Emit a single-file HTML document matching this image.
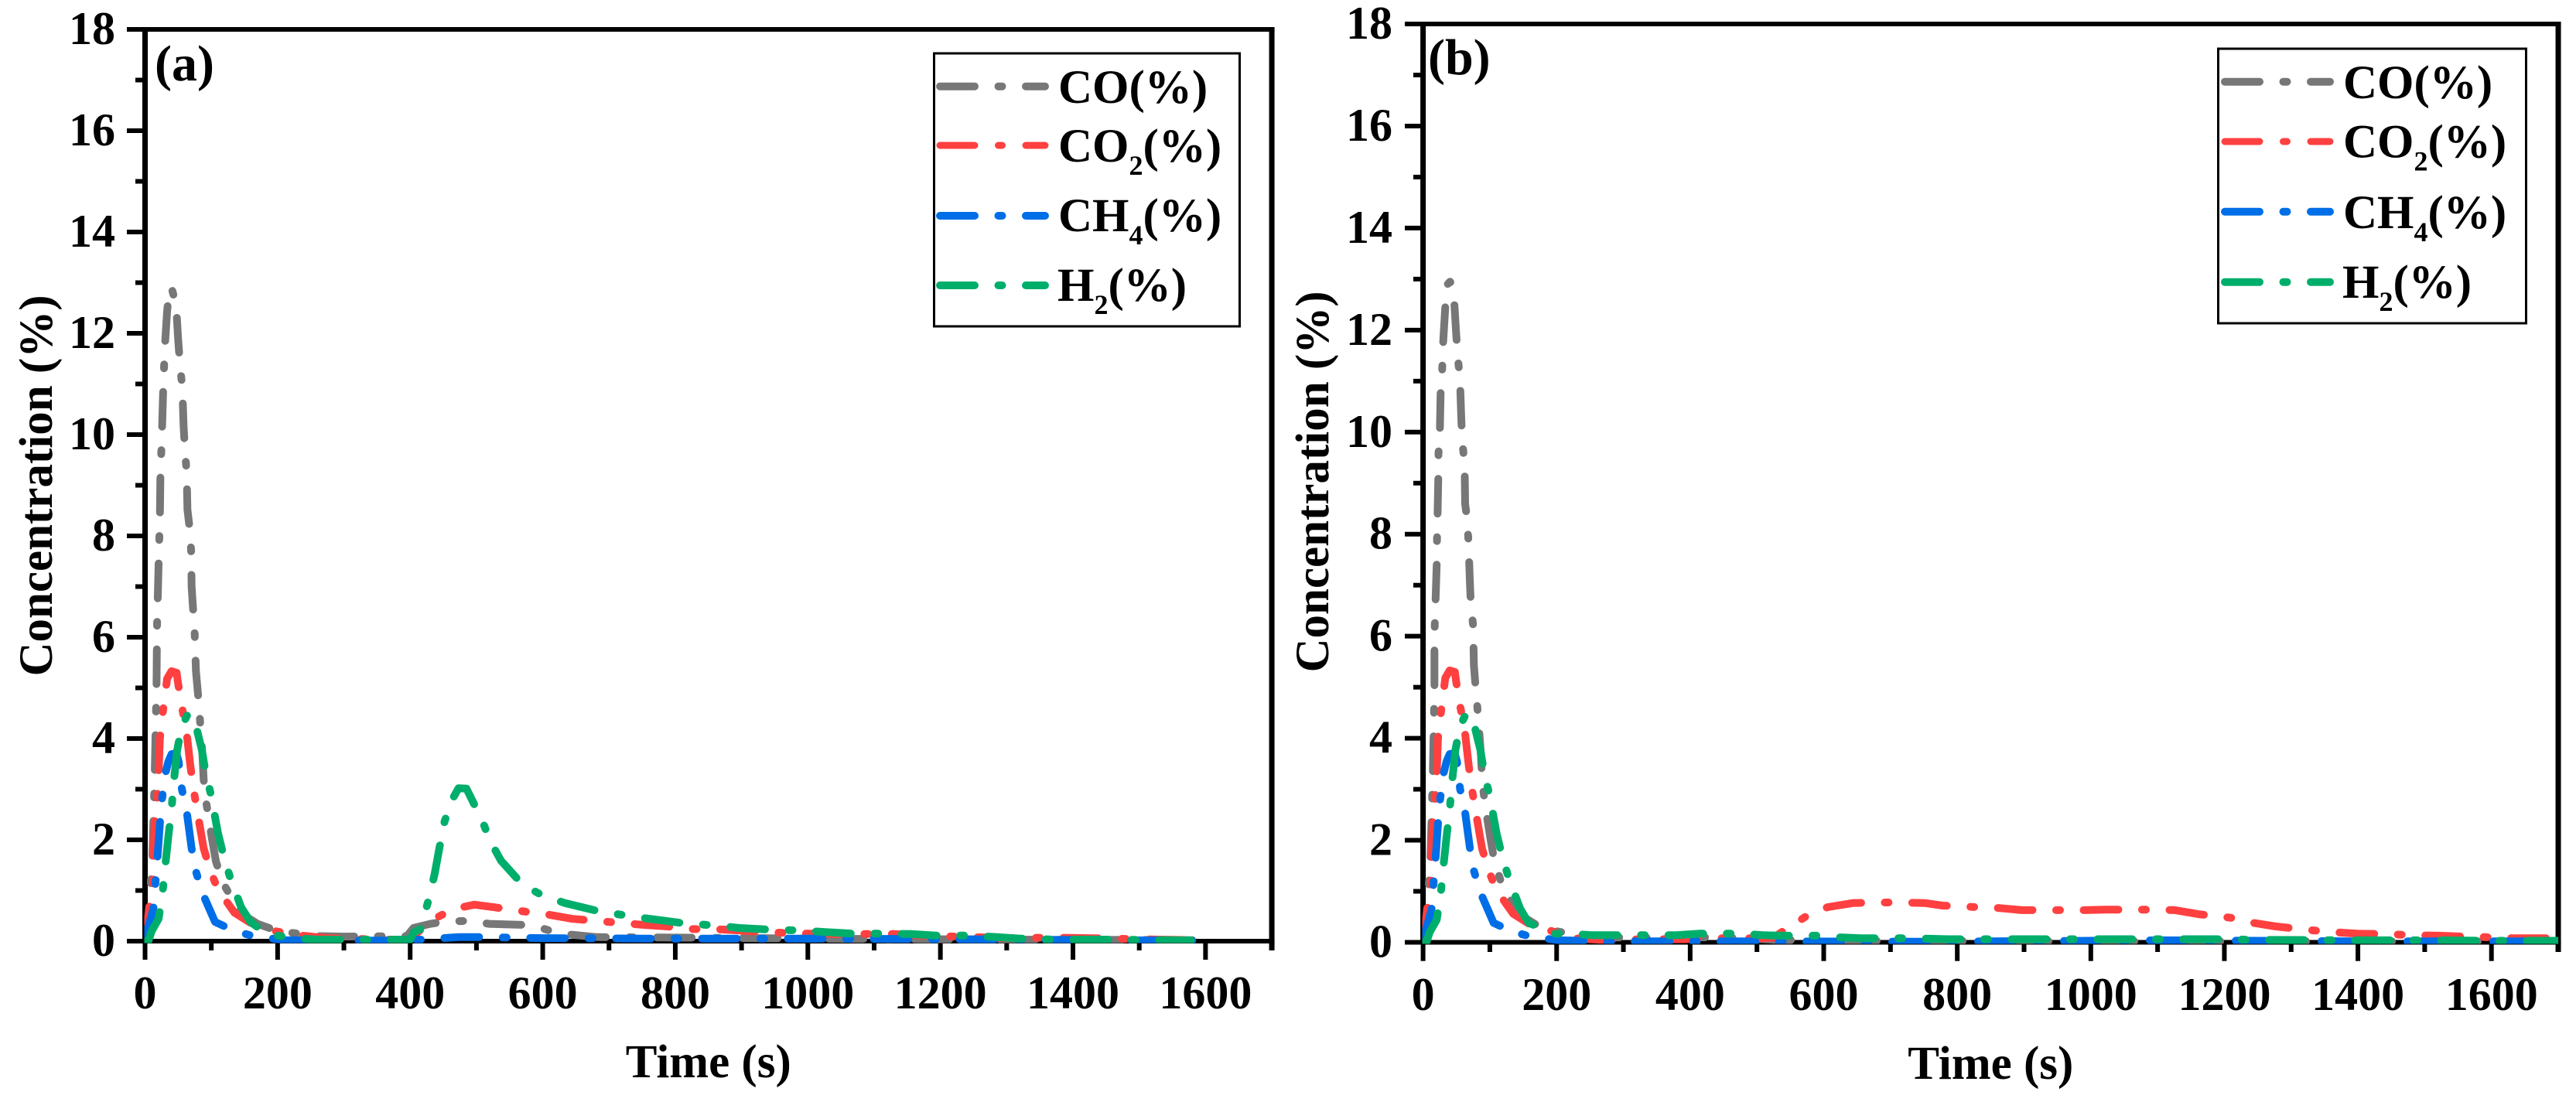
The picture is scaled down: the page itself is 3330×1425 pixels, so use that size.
<!DOCTYPE html>
<html lang="en">
<head>
<meta charset="utf-8">
<title>Gas concentration vs time</title>
<style>
html,body{margin:0;padding:0;background:#fff;}
svg{display:block;}
text{font-family:"Liberation Serif",serif;font-weight:bold;fill:#000;}
</style>
</head>
<body>
<svg id="chart" xmlns="http://www.w3.org/2000/svg" width="3330" height="1425" viewBox="0 0 3330 1425"></svg>
<script>
const xMajorTicks=[0,200,400,600,800,1000,1200,1400,1600];
const xMinorTicks=[100,300,500,700,900,1100,1300,1500,1700];
const yMajorTicks=[0,2,4,6,8,10,12,14,16,18];
const yMinorTicks=[1,3,5,7,9,11,13,15,17];

const coTimesA=[0,3,6.4,11,12.6,14.6,15.8,17.3,18.1,20.4,22.4,23.1,25.4,27.1,29.8,33.3,36.8,40,46.9,50,52.8,56.3,58.1,60.1,62.8,64,66.8,69.4,70.3,72.6,74.9,76.8,80,82.6,86.6,88.5,92.4,101,107,117.6,143,170,200,260,300,395,405,430,454,488,520,571,600,625,682,800,1000,1300,1580];
const coValuesA=[0,.18,.69,1.59,2.35,3.31,4.05,4.99,6.21,7.44,8.37,9.13,10.02,10.76,11.71,12.43,12.89,12.9,12.55,11.88,11.38,10.92,10.18,9.71,9.25,8.52,8.21,7.73,7,6.53,6.06,5.33,4.87,4.41,3.67,3.18,2.73,2.02,1.57,1.15,.56,.34,.2,.1,.09,.1,.26,.34,.39,.4,.34,.32,.25,.15,.08,.07,.05,.03,.02];
const co2TimesA=[0,6.4,12.3,12.6,14.6,18.1,20.4,22.4,26.3,31.3,33.3,39.9,47.6,49.6,55.4,62.4,68.3,73.3,79.6,88.5,98.3,110,135,158,190,221,236,275,300,366,400,406,423,441,464,497,526,575,610,645,753,788,820,870,910,950,1000,1060,1130,1170,1200,1300,1370,1420,1530,1580];
const co2ValuesA=[0,.67,1.13,1.59,2.35,2.78,3.27,4,4.46,4.97,5.18,5.33,5.3,5.11,4.64,4.15,3.47,2.99,2.5,1.83,1.4,1.02,.56,.37,.21,.14,.11,.06,.05,.03,.03,.11,.31,.47,.63,.72,.67,.58,.52,.44,.32,.29,.24,.23,.2,.17,.15,.14,.14,.11,.1,.06,.07,.06,.03,.02];
const ch4TimesA=[0,.6,12.6,15.4,18.4,22.4,25.4,30,35,39.9,47.3,50.8,55.4,63.3,70.3,76.4,86.6,105.6,133,160,209,300,400,415,473,508,600,755,1000,1200,1450,1580];
const ch4ValuesA=[0,.08,.64,1.11,1.59,2.32,2.78,3.27,3.54,3.69,3.71,3.54,3.01,2.52,1.83,1.39,.95,.38,.21,.11,.02,.01,.01,.03,.08,.08,.06,.05,.05,.04,.02,.01];
const h2TimesA=[0,5,10,20.4,26.3,29.8,35.6,39.9,42.6,48.4,55.4,63.6,72.9,85.8,91.6,99.4,110,117.6,127.8,145,159,184,225,260,300,400,406,415,429,437,444,452,464,473,485,508,521,537,570,600,634,678,699,750,786,814,861,897,939,989,1026,1066,1120,1155,1193,1247,1285,1320,1377,1455,1578];
const h2ValuesA=[0,0,.2,.44,.93,1.4,2.12,2.58,3.05,3.77,4.24,4.46,4.46,3.77,3.31,2.89,2.14,1.73,1.28,.67,.38,.14,.06,.03,.03,.03,.18,.23,.87,1.33,1.83,2.37,2.81,3.02,3.01,2.4,1.97,1.59,1.11,.9,.75,.61,.56,.46,.4,.35,.31,.26,.23,.21,.18,.15,.15,.14,.11,.11,.08,.05,.03,.03,.015];

const coTimesB=[0,3,6.4,11,12.6,14.6,15.8,17,17,17.5,18.7,20.5,20.8,21.7,22.8,23,25.1,26.3,28.6,29.8,33.2,36.7,40.4,44,46,49.5,51.8,55.3,57.2,58.7,62.2,63,65.7,68,70,71.5,75,76.1,78.9,82.6,86.6,88.5,92.4,101,107,117.6,143,170,186,223,265,368,410,486,525,600,680,1000,1700];
const coValuesB=[0,.18,.69,1.59,2.35,3.31,4.05,5,5.75,6.21,6.68,7.44,7.89,8.36,9.11,9.57,10.01,10.77,11.22,11.69,12.45,12.9,12.95,12.86,12.71,11.95,11.5,11.04,10.27,9.81,9.38,8.59,8.33,7.86,7.11,6.63,6.21,5.43,4.96,4.41,3.67,3.18,2.73,2.02,1.57,1.15,.56,.34,.25,.16,.1,.08,.1,.08,.05,.03,.03,.02,.02];
const co2TimesB=[0,6.4,12.3,12.6,14.6,18.1,20.4,22.4,26.3,31.3,33.3,39.9,47.6,49.6,55.4,62.4,68.3,73.3,79.6,88.5,98.3,110,135,158,190,226,265,350,392,419,478,507,525,539,575,606,644,687,708,751,778,810,864,897,935,991,1022,1057,1096,1126,1162,1210,1239,1277,1328,1363,1398,1445,1481,1520,1564,1593,1633,1685,1700];
const co2ValuesB=[0,.67,1.13,1.59,2.35,2.78,3.27,4,4.46,4.97,5.18,5.33,5.3,5.11,4.64,4.15,3.47,2.99,2.5,1.83,1.4,1.02,.56,.37,.23,.08,.05,.06,.06,.08,.08,.08,.09,.22,.52,.69,.77,.78,.78,.77,.72,.7,.67,.63,.63,.63,.64,.64,.64,.63,.55,.48,.39,.31,.24,.2,.17,.16,.14,.13,.11,.1,.08,.08,.08];
const ch4TimesB=[0,.6,12.6,15.4,18.4,22.4,25.4,30,35,39.9,47.3,50.8,55.4,63.3,70.3,76.4,86.6,105.6,133,165,205,265,400,500,750,850,1000,1100,1250,1400,1700];
const ch4ValuesB=[0,.08,.64,1.11,1.59,2.32,2.78,3.27,3.54,3.69,3.71,3.54,3.01,2.52,1.83,1.39,.95,.38,.21,.1,.04,.02,.02,.02,.01,.02,.03,.04,.03,.02,.02];
const h2TimesB=[0,5,10,20.4,26.3,29.8,35.6,39.9,42.6,48.4,55.4,63.6,72.9,85.8,91.6,99.4,110,117.6,127.8,145,158,197,217,252,288,348,380,415,475,509,539,590,618,657,725,787,900,1000,1150,1215,1234,1400,1500,1610,1700];
const h2ValuesB=[0,0,.2,.44,.93,1.4,2.12,2.58,3.05,3.77,4.24,4.46,4.46,3.77,3.31,2.89,2.14,1.73,1.28,.67,.38,.17,.17,.14,.14,.14,.14,.17,.17,.14,.13,.13,.1,.08,.08,.06,.06,.06,.06,.06,.05,.04,.04,.03,.03];

const NS='http://www.w3.org/2000/svg';
const svg=document.getElementById('chart');

function make(tag,parent,attrs){
  const e=document.createElementNS(NS,tag);
  for(const k in attrs){e.setAttribute(k,attrs[k]);}
  parent.appendChild(e);
  return e;
}

function drawPanel(cfg){
  const g=make('g',svg,{});
  
  
  const xScale=t=>cfg.x0+t*cfg.xPerUnit;
  const yScale=v=>cfg.y0-v*cfg.yPerUnit;
  const xEnd=xScale(1700), yTop=yScale(18);

  const frame=[
    ['left-axis-line',cfg.x0,yTop-3,cfg.x0,cfg.y0+3,7],
    ['right-axis-line',xEnd,yTop-3,xEnd,cfg.minorBottom,7],
    ['top-axis-line',cfg.x0,yTop,xEnd+3.5,yTop,6],
    ['x-axis-line',cfg.x0,cfg.y0,xEnd+3.5,cfg.y0,6]
  ];
  frame.forEach(f=>{
    const l=make('line',g,{x1:f[1],y1:f[2],x2:f[3],y2:f[4],stroke:'#000','stroke-width':f[5]});
    
    
  });

  xMajorTicks.forEach(t=>{
    const l=make('line',g,{x1:xScale(t),y1:cfg.y0,x2:xScale(t),y2:cfg.majorBottom,stroke:'#000','stroke-width':6});
    
    
    const tx=make('text',g,{x:xScale(t),y:cfg.xLabelY,'font-size':60,'text-anchor':'middle'});
    tx.textContent=String(t);
    
    
  });
  xMinorTicks.forEach(t=>{
    const l=make('line',g,{x1:xScale(t),y1:cfg.y0,x2:xScale(t),y2:cfg.minorBottom,stroke:'#000','stroke-width':6});
    
    
  });
  yMajorTicks.forEach(v=>{
    const l=make('line',g,{x1:cfg.majorLeft,y1:yScale(v),x2:cfg.x0,y2:yScale(v),stroke:'#000','stroke-width':6});
    
    
    const tx=make('text',g,{x:cfg.yLabelX,y:yScale(v)+19,'font-size':60,'text-anchor':'end'});
    tx.textContent=String(v);
    
    
  });
  yMinorTicks.forEach(v=>{
    const l=make('line',g,{x1:cfg.minorLeft,y1:yScale(v),x2:cfg.x0,y2:yScale(v),stroke:'#000','stroke-width':6});
    
    
  });

  const xt=make('text',g,{x:(cfg.x0+xEnd)/2,y:cfg.xTitleY,'font-size':61,'text-anchor':'middle'});
  xt.textContent='Time (s)';
  
  
  const yt=make('text',g,{x:0,y:0,'font-size':61,'text-anchor':'middle',transform:'translate('+cfg.yTitleX+','+cfg.yTitleY+') rotate(-90)'});
  yt.textContent='Concentration (%)';
  
  
  const pl=make('text',g,{x:cfg.tagX,y:cfg.tagY,'font-size':66});
  pl.textContent='('+cfg.id+')';
  
  

  const clip=make('clipPath',g,{id:'clip-'+cfg.id});
  make('rect',clip,{x:cfg.x0-1,y:yTop,width:xEnd-cfg.x0+1,height:cfg.clipBottom-yTop});

  cfg.series.forEach(s=>{
    const pts=s.times.map((t,i)=>xScale(t).toFixed(1)+','+yScale(s.values[i]).toFixed(1)).join(' ');
    const p=make('polyline',g,{points:pts,fill:'none',stroke:s.color,'stroke-width':10,'stroke-linecap':'round','stroke-linejoin':'round','stroke-dasharray':'45 30.5 5 30.5','clip-path':'url(#clip-'+cfg.id+')'});
    
    
  });

  const lg=make('g',g,{});
  
  
  const box=make('rect',lg,{x:cfg.legend.x,y:cfg.legend.y,width:cfg.legend.w,height:cfg.legend.h,fill:'#fff',stroke:'#000','stroke-width':3});
  
  
  cfg.series.forEach((s,i)=>{
    const ly=cfg.legend.lineY[i];
    const sample=make('line',lg,{x1:cfg.legend.sampleX,y1:ly,x2:cfg.legend.sampleX+136,y2:ly,stroke:s.color,'stroke-width':s.name==='co2'?9:10,'stroke-linecap':'round','stroke-dasharray':'45 30.5 5 30.5'});
    
    
    const tx=make('text',lg,{x:cfg.legend.textX-(s.name==='h2'?1:0),y:cfg.legend.textY[i],'font-size':61});
    
    
    tx.appendChild(document.createTextNode(s.base));
    if(s.sub){
      const a=make('tspan',tx,{dy:17,'font-size':36});
      a.textContent=s.sub;
      const b=make('tspan',tx,{dy:-17});
      b.textContent='(%)';
    }else{
      tx.appendChild(document.createTextNode('(%)'));
    }
  });
}

const COLORS={co:'#777777',co2:'#ff4040',ch4:'#006ee6',h2:'#00ae6b'};

drawPanel({
  id:'a',x0:187.5,xPerUnit:0.8568,y0:1217,yPerUnit:65.5,
  majorBottom:1241,minorBottom:1229,majorLeft:164,minorLeft:175,
  xLabelY:1304,yLabelX:149,xTitleY:1393,yTitleX:67,yTitleY:628,
  tagX:200,tagY:104,clipBottom:1219.5,
  legend:{x:1207.5,y:69,w:395,h:353,sampleX:1215,textX:1368,lineY:[111.7,188,279,369],textY:[133,209,299,389]},
  series:[
    {name:'co',color:COLORS.co,times:coTimesA,values:coValuesA,base:'CO',sub:''},
    {name:'co2',color:COLORS.co2,times:co2TimesA,values:co2ValuesA,base:'CO',sub:'2'},
    {name:'ch4',color:COLORS.ch4,times:ch4TimesA,values:ch4ValuesA,base:'CH',sub:'4'},
    {name:'h2',color:COLORS.h2,times:h2TimesA,values:h2ValuesA,base:'H',sub:'2'}
  ]
});

drawPanel({
  id:'b',x0:1839.6,xPerUnit:0.8632,y0:1218.5,yPerUnit:65.97,
  majorBottom:1242.7,minorBottom:1231,majorLeft:1816,minorLeft:1827,
  xLabelY:1306,yLabelX:1800,xTitleY:1395,yTitleX:1717,yTitleY:623,
  tagX:1846,tagY:96,clipBottom:1220.5,
  legend:{x:2867.5,y:63,w:398,h:355,sampleX:2876,textX:3029,lineY:[105.7,183,273.7,364.7],textY:[127,203.7,295,385]},
  series:[
    {name:'co',color:COLORS.co,times:coTimesB,values:coValuesB,base:'CO',sub:''},
    {name:'co2',color:COLORS.co2,times:co2TimesB,values:co2ValuesB,base:'CO',sub:'2'},
    {name:'ch4',color:COLORS.ch4,times:ch4TimesB,values:ch4ValuesB,base:'CH',sub:'4'},
    {name:'h2',color:COLORS.h2,times:h2TimesB,values:h2ValuesB,base:'H',sub:'2'}
  ]
});
</script>
</body>
</html>
